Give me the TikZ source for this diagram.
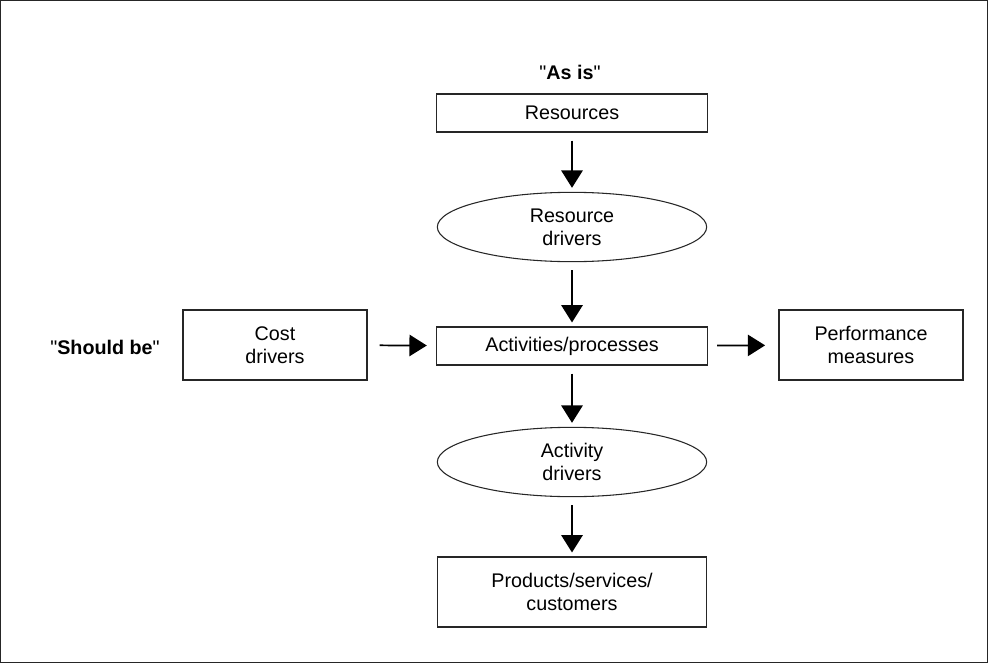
\documentclass[tikz,border=0pt]{standalone}
\usepackage{fontspec}
\setsansfont[Ligatures=TeXOff]{Liberation Sans}
\usetikzlibrary{arrows.meta,shapes.geometric}

\begin{document}
\begin{tikzpicture}[
  x=0.75pt, y=-0.75pt,
  font=\sffamily\fontsize{14.8}{17}\selectfont,
  box/.style={draw=black!85, line width=0.8pt, align=center, inner sep=2pt},
  wide/.style={box, minimum width=203pt, minimum height=28.5pt},
  tall/.style={box, minimum width=138pt, minimum height=52.5pt},
  oval/.style={ellipse, draw=black!85, line width=0.8pt, align=center, inner sep=0pt, minimum width=202pt, minimum height=52pt},
  flow/.style={-{Triangle[width=16pt,length=13pt]}, line width=1.3pt, shorten <=6pt, shorten >=3pt}
]
\useasboundingbox (0,0) rectangle (988,663);
\draw[black!85, line width=0.8pt] (0.5,0.5) rectangle (987.5,662.5);

% headings
\node (asis) at (570,72) {"\textbf{As is}"};
\node (shouldbe) at (105,347) {"\textbf{Should be}"};

% main column
\node[wide] (resources) at (572,113) {Resources};
\node[oval] (resdrivers) at (572,227) {Resource\\drivers};
\node[wide] (activities) at (572,346) {Activities/processes};
\node[oval] (actdrivers) at (572,462) {Activity\\drivers};
\node[box, minimum width=202pt, minimum height=52.5pt] (products) at (572,592) {Products/services/\\customers};

% side boxes
\node[tall] (costdrivers) at (275,345) {Cost\\drivers};
\node[tall] (perf) at (871,345) {Performance\\measures};

\draw[flow] (resources) -- (resdrivers);
\draw[flow] (resdrivers) -- (activities);
\draw[flow] (activities) -- (actdrivers);
\draw[flow] (actdrivers) -- (products);
\draw[flow, shorten <=9pt, shorten >=7pt] (costdrivers) -- (activities);
\draw[flow, shorten <=7pt, shorten >=10pt] (activities) -- (perf);

\end{tikzpicture}
\end{document}
